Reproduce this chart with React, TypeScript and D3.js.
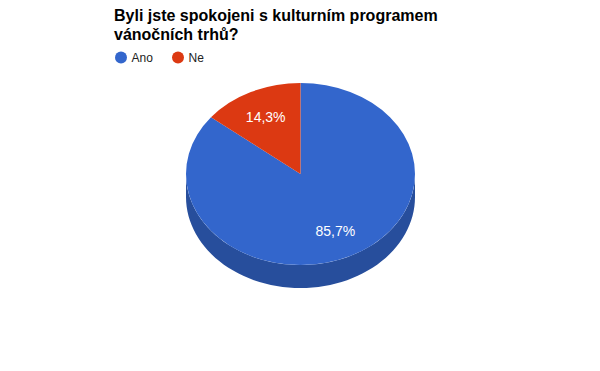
import { useEffect, useRef } from "react";
import * as d3 from "d3";

const title = ["Byli jste spokojeni s kulturním programem", "vánočních trhů?"];
const categories = ["Ano", "Ne"];
const values = [6, 1];
const colors = ["#3366cc", "#dc3912"];

const W = 600;
const H = 371;

const App = () => {
  const ref = useRef<SVGSVGElement>(null);

  useEffect(() => {
    const svg = d3.select(ref.current);
    svg.selectAll("*").remove();

    const font = "Arial, 'Liberation Sans', sans-serif";
    const cx = 300.5;
    const cy = 174;
    const rx = 114.5;
    const ry = 91;
    const depth = 23;

    // title
    svg
      .append("text")
      .attr("x", 114)
      .attr("y", 21)
      .attr("font-family", font)
      .attr("font-size", 16)
      .attr("font-weight", "bold")
      .attr("fill", "#000")
      .selectAll("tspan")
      .data(title)
      .join("tspan")
      .attr("x", 114)
      .attr("dy", (d, i) => (i === 0 ? 0 : 18.5))
      .text((d) => d);

    // legend
    const legendX = [121, 178];
    const lg = svg
      .append("g")
      .selectAll("g")
      .data(categories)
      .join("g")
      .attr("transform", (d, i) => `translate(${legendX[i]},57.5)`);
    lg.append("circle").attr("r", 6).attr("fill", (d, i) => colors[i]);
    lg.append("text")
      .attr("x", 10.5)
      .attr("y", 4.5)
      .attr("font-family", font)
      .attr("font-size", 12)
      .attr("fill", "#222")
      .text((d) => d);

    const pie = d3.pie<number>().sort(null).value((d) => d);
    const arcs = pie(values);
    const total = d3.sum(values);

    const pt = (a: number) => [cx + rx * Math.sin(a), cy - ry * Math.cos(a)];

    // sides (front half: angles between PI/2 and 3PI/2)
    const sides = svg.append("g");
    arcs.forEach((a, i) => {
      const s = Math.max(a.startAngle, Math.PI / 2);
      const e = Math.min(a.endAngle, (3 * Math.PI) / 2);
      if (e <= s) return;
      const [x0, y0] = pt(s);
      const [x1, y1] = pt(e);
      const p = d3.path();
      p.moveTo(x0, y0);
      // sample the ellipse
      const n = 60;
      for (let k = 1; k <= n; k++) {
        const t = s + ((e - s) * k) / n;
        const [x, y] = pt(t);
        p.lineTo(x, y);
      }
      p.lineTo(x1, y1 + depth);
      for (let k = n - 1; k >= 0; k--) {
        const t = s + ((e - s) * k) / n;
        const [x, y] = pt(t);
        p.lineTo(x, y + depth);
      }
      p.closePath();
      sides
        .append("path")
        .attr("d", p.toString())
        .attr("fill", d3.color(colors[i])!.darker(0.75).toString());
    });

    // top faces
    const arc = d3.arc<d3.PieArcDatum<number>>().innerRadius(0).outerRadius(rx);
    svg
      .append("g")
      .attr("transform", `translate(${cx},${cy}) scale(1,${ry / rx})`)
      .selectAll("path")
      .data(arcs)
      .join("path")
      .attr("d", arc)
      .attr("fill", (d, i) => colors[i]);

    // labels
    svg
      .append("g")
      .selectAll("text")
      .data(arcs)
      .join("text")
      .attr("x", (d) => cx + rx * 0.7 * Math.sin((d.startAngle + d.endAngle) / 2))
      .attr("y", (d) => cy - ry * 0.7 * Math.cos((d.startAngle + d.endAngle) / 2) + 5)
      .attr("text-anchor", "middle")
      .attr("font-family", font)
      .attr("font-size", 14)
      .attr("fill", "#fff")
      .text((d) => ((d.value / total) * 100).toFixed(1).replace(".", ",") + "%");
  }, []);

  return (
    <svg
      ref={ref}
      width={W}
      height={H}
      style={{ position: "absolute", left: 0, top: 0, background: "#fff" }}
    />
  );
};

export default App;
